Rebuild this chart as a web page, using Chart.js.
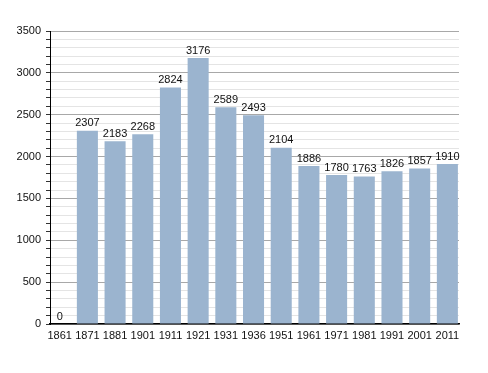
<!DOCTYPE html>
<html>
<head>
<meta charset="utf-8">
<script src="https://cdn.jsdelivr.net/npm/chart.js@4/dist/chart.umd.min.js"></script>
<style>
  html, body { margin: 0; padding: 0; background: #fff; }
  #wrap { width: 488px; height: 373px; }
</style>
</head>
<body>
<div id="wrap"><canvas id="popChart" width="488" height="373"></canvas></div>
<script>
// Population by census year
const years = ["1861","1871","1881","1901","1911","1921","1931","1936","1951","1961","1971","1981","1991","2001","2011"];
const population = [0, 2307, 2183, 2268, 2824, 3176, 2589, 2493, 2104, 1886, 1780, 1763, 1826, 1857, 1910];
const yMax = 3500;
const yStep = 100;
const yLabelStep = 500;

// bars are placed by index on a linear x scale so the first slot can sit against the axis
const points = population.map((v, i) => ({ x: i, y: v }));

// draw value above each bar
const valueLabels = {
  id: "valueLabels",
  afterDatasetsDraw(chart) {
    const ctx = chart.ctx;
    const meta = chart.getDatasetMeta(0);
    ctx.save();
    ctx.font = "11px 'Liberation Sans', Arial, sans-serif";
    ctx.fillStyle = "#111";
    ctx.textAlign = "center";
    ctx.textBaseline = "bottom";
    meta.data.forEach((bar, i) => {
      ctx.fillText(String(population[i]), bar.x, bar.y - 2);
    });
    ctx.restore();
  }
};

const ctx = document.getElementById("popChart").getContext("2d");
new Chart(ctx, {
  type: "bar",
  data: {
    datasets: [{
      data: points,
      backgroundColor: "#9bb4cf",
      borderWidth: 0,
      categoryPercentage: 0.76,
      barPercentage: 1
    }]
  },
  options: {
    responsive: false,
    animation: false,
    layout: { padding: { top: 31, right: 29, left: 0, bottom: 0 } },
    plugins: { legend: { display: false }, tooltip: { enabled: false } },
    scales: {
      x: {
        type: "linear",
        offset: false,
        min: -0.35,
        max: 14.42,
        afterFit: (scale) => { scale.height = 49; },
        afterBuildTicks: (scale) => {
          scale.ticks = years.map((y, i) => ({ value: i }));
        },
        grid: { display: false, drawTicks: false },
        border: { color: "#000", width: 1.5 },
        ticks: {
          color: "#111",
          padding: 5,
          maxRotation: 0,
          autoSkip: false,
          font: { family: "'Liberation Sans', Arial, sans-serif", size: 11 },
          callback: (v) => years[v] || ""
        }
      },
      y: {
        min: 0,
        max: yMax,
        afterFit: (scale) => { scale.width = 50; },
        border: { color: "#000", width: 1 },
        grid: {
          color: (c) => (c.tick && c.tick.value % yLabelStep === 0) ? "#a8a8a8" : "#e4e4e4",
          tickColor: "#333",
          tickLength: 4
        },
        ticks: {
          stepSize: yStep,
          autoSkip: false,
          color: "#111",
          padding: 5,
          font: { family: "'Liberation Sans', Arial, sans-serif", size: 11 },
          callback: (v) => (v % yLabelStep === 0 ? String(v) : "")
        }
      }
    }
  },
  plugins: [valueLabels]
});
</script>
</body>
</html>
